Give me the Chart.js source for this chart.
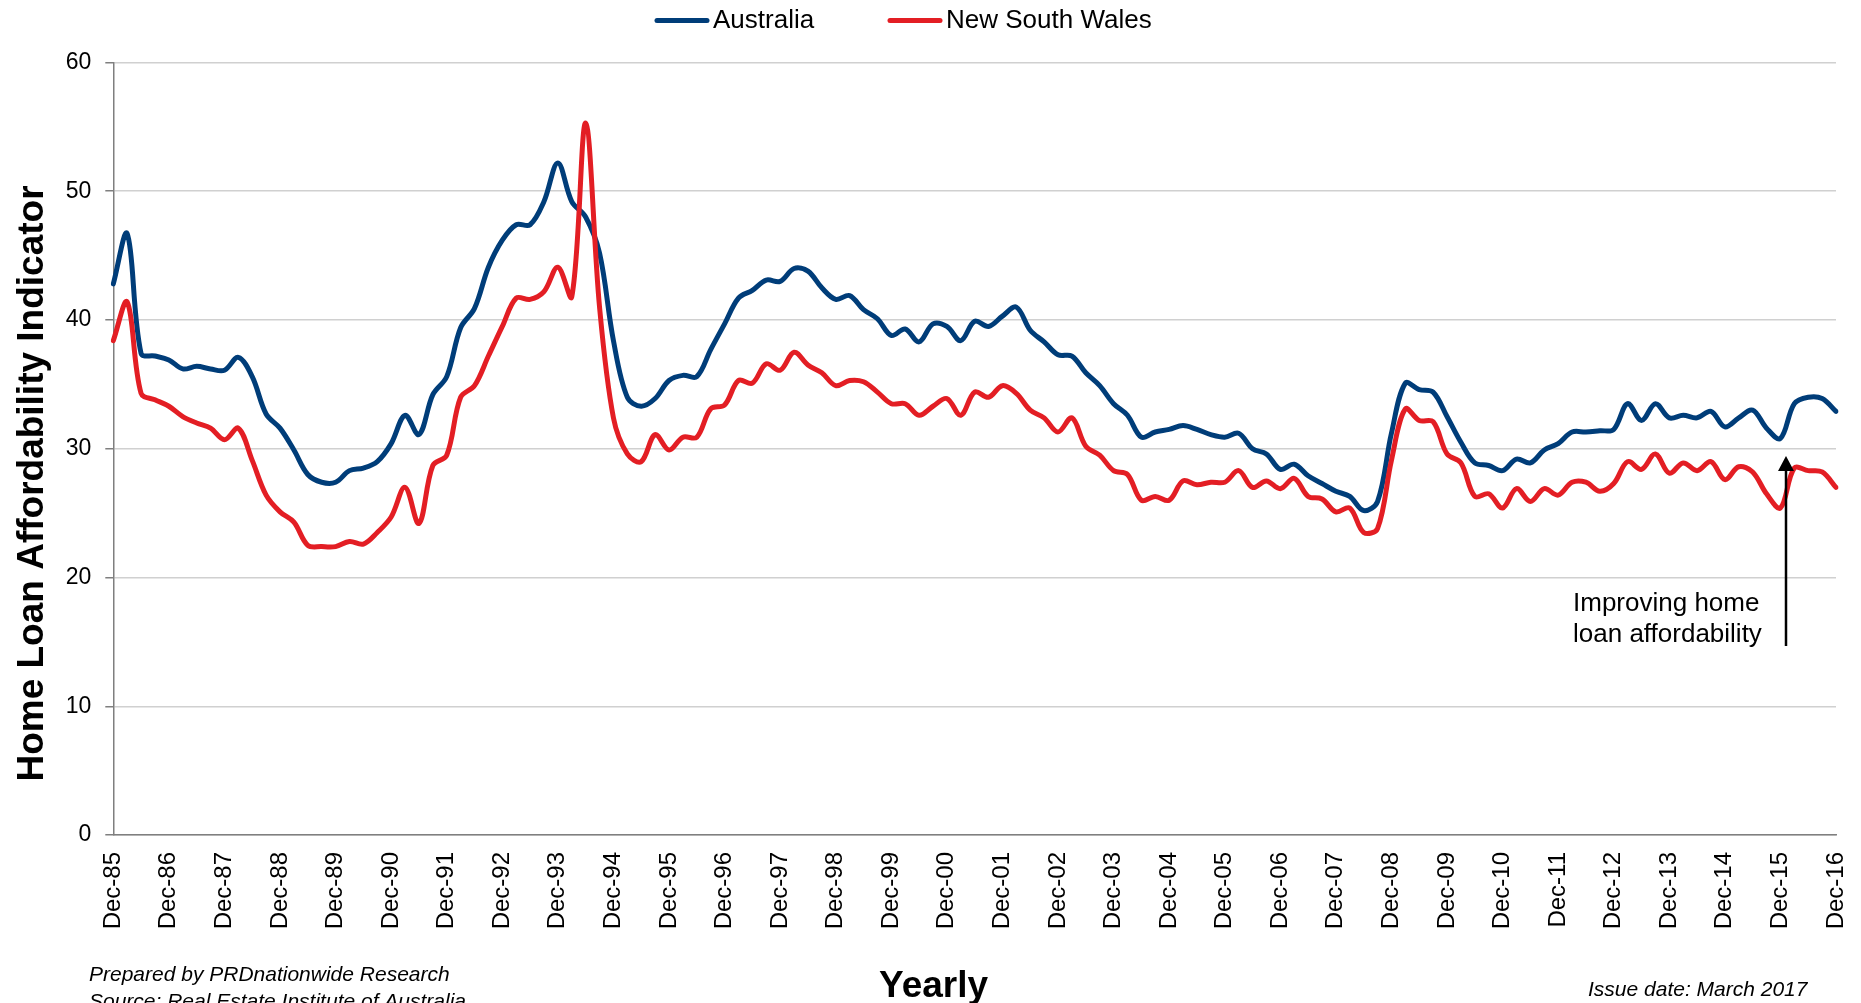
<!DOCTYPE html>
<html>
<head>
<meta charset="utf-8">
<title>Home Loan Affordability Indicator</title>
<script src="https://cdn.jsdelivr.net/npm/chart.js@4.4.1/dist/chart.umd.min.js"></script>
<style>
  html, body { margin: 0; padding: 0; background: #fff; }
  #wrap { width: 1861px; height: 1003px; }
</style>
</head>
<body>
<div id="wrap"><canvas id="hlai-chart" width="1861" height="1003"></canvas></div>
<script>
// --- Data (quarterly, Dec-85 to Dec-16) ---
const yearLabels = ['Dec-85', 'Dec-86', 'Dec-87', 'Dec-88', 'Dec-89', 'Dec-90', 'Dec-91', 'Dec-92',
    'Dec-93', 'Dec-94', 'Dec-95', 'Dec-96', 'Dec-97', 'Dec-98', 'Dec-99', 'Dec-00', 'Dec-01', 'Dec-02',
    'Dec-03', 'Dec-04', 'Dec-05', 'Dec-06', 'Dec-07', 'Dec-08', 'Dec-09', 'Dec-10', 'Dec-11', 'Dec-12',
    'Dec-13', 'Dec-14', 'Dec-15', 'Dec-16'];
const quarterNames = ['Dec', 'Mar', 'Jun', 'Sep'];

const australia = [
    42.8, 46.7, 37.4, 37.2, 36.9, 36.2, 36.4, 36.2, 36.1, 37.1, 35.6, 32.7, 31.6, 29.9, 28.0, 27.4,
    27.4, 28.3, 28.5, 29.0, 30.4, 32.6, 31.1, 34.2, 35.6, 39.4, 40.9, 44.1, 46.2, 47.4, 47.4, 49.2,
    52.2, 49.2, 48.0, 45.2, 38.4, 34.0, 33.3, 33.9, 35.3, 35.7, 35.6, 37.7, 39.7, 41.7, 42.3, 43.1,
    43.0, 44.0, 43.8, 42.5, 41.6, 41.9, 40.8, 40.1, 38.8, 39.3, 38.3, 39.7, 39.5, 38.4, 39.9, 39.5,
    40.3, 41.0, 39.2, 38.3, 37.3, 37.2, 35.9, 34.9, 33.5, 32.6, 30.9, 31.3, 31.5, 31.8, 31.5, 31.1,
    30.9, 31.2, 30.0, 29.6, 28.4, 28.8, 27.9, 27.3, 26.7, 26.3, 25.2, 25.9, 31.2, 35.1, 34.6, 34.4,
    32.5, 30.5, 28.9, 28.7, 28.3, 29.2, 28.9, 29.9, 30.4, 31.3, 31.3, 31.4, 31.5, 33.5, 32.2, 33.5,
    32.4, 32.6, 32.4, 32.9, 31.7, 32.4, 33.0, 31.6, 30.8, 33.5, 34.0, 33.9, 32.9
];
const newSouthWales = [
    38.4, 41.4, 34.3, 33.8, 33.3, 32.5, 32.0, 31.6, 30.7, 31.6, 29.1, 26.4, 25.1, 24.3, 22.5, 22.4,
    22.4, 22.8, 22.6, 23.5, 24.7, 27.0, 24.2, 28.7, 29.5, 34.0, 34.9, 37.2, 39.5, 41.7, 41.6, 42.2,
    44.1, 41.8, 55.3, 41.0, 32.4, 29.6, 29.0, 31.1, 29.9, 30.9, 30.9, 33.1, 33.4, 35.3, 35.1, 36.6,
    36.1, 37.5, 36.5, 35.9, 34.9, 35.3, 35.2, 34.4, 33.5, 33.5, 32.6, 33.3, 33.9, 32.6, 34.4, 34.0,
    34.9, 34.3, 33.0, 32.4, 31.3, 32.4, 30.2, 29.5, 28.3, 28.0, 26.0, 26.3, 26.0, 27.5, 27.2, 27.4,
    27.4, 28.3, 27.0, 27.5, 26.9, 27.7, 26.3, 26.1, 25.1, 25.4, 23.5, 23.8, 29.1, 33.1, 32.2, 32.1,
    29.6, 28.9, 26.3, 26.5, 25.4, 26.9, 25.9, 26.9, 26.4, 27.4, 27.4, 26.7, 27.3, 29.0, 28.4, 29.6,
    28.1, 28.9, 28.3, 29.0, 27.6, 28.6, 28.2, 26.5, 25.4, 28.5, 28.3, 28.2, 27.0
];
const yTicks = [0, 10, 20, 30, 40, 50, 60];

const FONT = "'Liberation Sans', Arial, Helvetica, sans-serif";
const AXIS_GREY = '#7f7f7f';

// quarter labels: Dec-85, Mar-86, Jun-86, Sep-86, Dec-86 ...
const quarters = australia.map((v, i) => {
    const y = Math.floor(i / 4), q = i % 4;
    return q === 0 ? yearLabels[y] : quarterNames[q] + '-' + yearLabels[y + 1].slice(4);
});

// legend, axis titles, notes and arrow
const extras = {
    id: 'extras',
    afterDraw(chart) {
        const ctx = chart.ctx;
        ctx.save();
        ctx.fillStyle = '#000';

        // legend
        const legendPos = [[655, 713], [888, 946]];
        ctx.font = `26px ${FONT}`;
        ctx.textBaseline = 'middle';
        ctx.textAlign = 'left';
        chart.data.datasets.forEach((ds, k) => {
            const [lx, tx] = legendPos[k];
            ctx.strokeStyle = ds.borderColor;
            ctx.lineWidth = 5;
            ctx.lineCap = 'round';
            ctx.beginPath();
            ctx.moveTo(lx + 2, 20.5);
            ctx.lineTo(lx + 52, 20.5);
            ctx.stroke();
            ctx.fillText(ds.label, tx, 21);
        });

        // y axis title
        ctx.save();
        ctx.translate(42.5, 483.5);
        ctx.rotate(-Math.PI / 2);
        ctx.font = `bold 37px ${FONT}`;
        ctx.textAlign = 'center';
        ctx.textBaseline = 'alphabetic';
        ctx.fillText('Home Loan Affordability Indicator', 0, 0);
        ctx.restore();

        // x axis title
        ctx.textBaseline = 'alphabetic';
        ctx.textAlign = 'left';
        ctx.font = `bold 37px ${FONT}`;
        ctx.fillText('Yearly', 879, 997);

        // footer notes
        ctx.font = `italic 21px ${FONT}`;
        ctx.fillText('Prepared by PRDnationwide Research', 89, 981);
        ctx.fillText('Source: Real Estate Institute of Australia', 89, 1008);
        ctx.fillText('Issue date: March 2017', 1588, 996);

        // annotation
        ctx.font = `26px ${FONT}`;
        ctx.fillText('Improving home', 1573, 611);
        ctx.fillText('loan affordability', 1573, 642);

        // arrow
        ctx.strokeStyle = '#000';
        ctx.lineWidth = 2.5;
        ctx.lineCap = 'butt';
        ctx.beginPath();
        ctx.moveTo(1786, 646);
        ctx.lineTo(1786, 468);
        ctx.stroke();
        ctx.beginPath();
        ctx.moveTo(1786, 456);
        ctx.lineTo(1794, 471);
        ctx.lineTo(1778, 471);
        ctx.closePath();
        ctx.fill();

        ctx.restore();
    }
};

const ctx = document.getElementById('hlai-chart').getContext('2d');
new Chart(ctx, {
    type: 'line',
    data: {
        labels: quarters,
        datasets: [
            {
                label: 'Australia',
                data: australia,
                borderColor: '#003d79',
                backgroundColor: '#003d79',
                borderWidth: 5,
                pointRadius: 0,
                tension: 0.35,
                fill: false,
                borderCapStyle: 'round',
                borderJoinStyle: 'round',
                order: 2
            },
            {
                label: 'New South Wales',
                data: newSouthWales,
                borderColor: '#e31e24',
                backgroundColor: '#e31e24',
                borderWidth: 5,
                pointRadius: 0,
                tension: 0.35,
                fill: false,
                borderCapStyle: 'round',
                borderJoinStyle: 'round',
                order: 1
            }
        ]
    },
    options: {
        responsive: false,
        animation: false,
        layout: { padding: { left: 0, top: 62.5, right: 25, bottom: 0 } },
        plugins: {
            legend: { display: false },
            tooltip: { enabled: false }
        },
        scales: {
            x: {
                type: 'category',
                grid: { display: false, drawTicks: false },
                border: { display: true, color: AXIS_GREY, width: 1.5 },
                ticks: {
                    autoSkip: false,
                    minRotation: 90,
                    maxRotation: 90,
                    padding: 17,
                    color: '#000',
                    font: { family: FONT, size: 24 },
                    callback: function (value, index) {
                        return index % 4 === 0 ? this.getLabelForValue(value) : null;
                    }
                },
                afterFit: scale => {
                    scale.height = 168;
                    scale.paddingLeft = 0;
                    scale.paddingRight = 0;
                }
            },
            y: {
                min: 0,
                max: 60,
                grid: { color: '#d0d0d0', lineWidth: 1.5, tickColor: AXIS_GREY, tickLength: 8 },
                border: { display: true, color: AXIS_GREY, width: 1.5 },
                ticks: {
                    padding: 14,
                    color: '#000',
                    font: { family: FONT, size: 23 }
                },
                afterBuildTicks: scale => { scale.ticks = yTicks.map(v => ({ value: v })); },
                afterFit: scale => { scale.width = 113.3; }
            }
        }
    },
    plugins: [extras]
});
</script>
</body>
</html>
